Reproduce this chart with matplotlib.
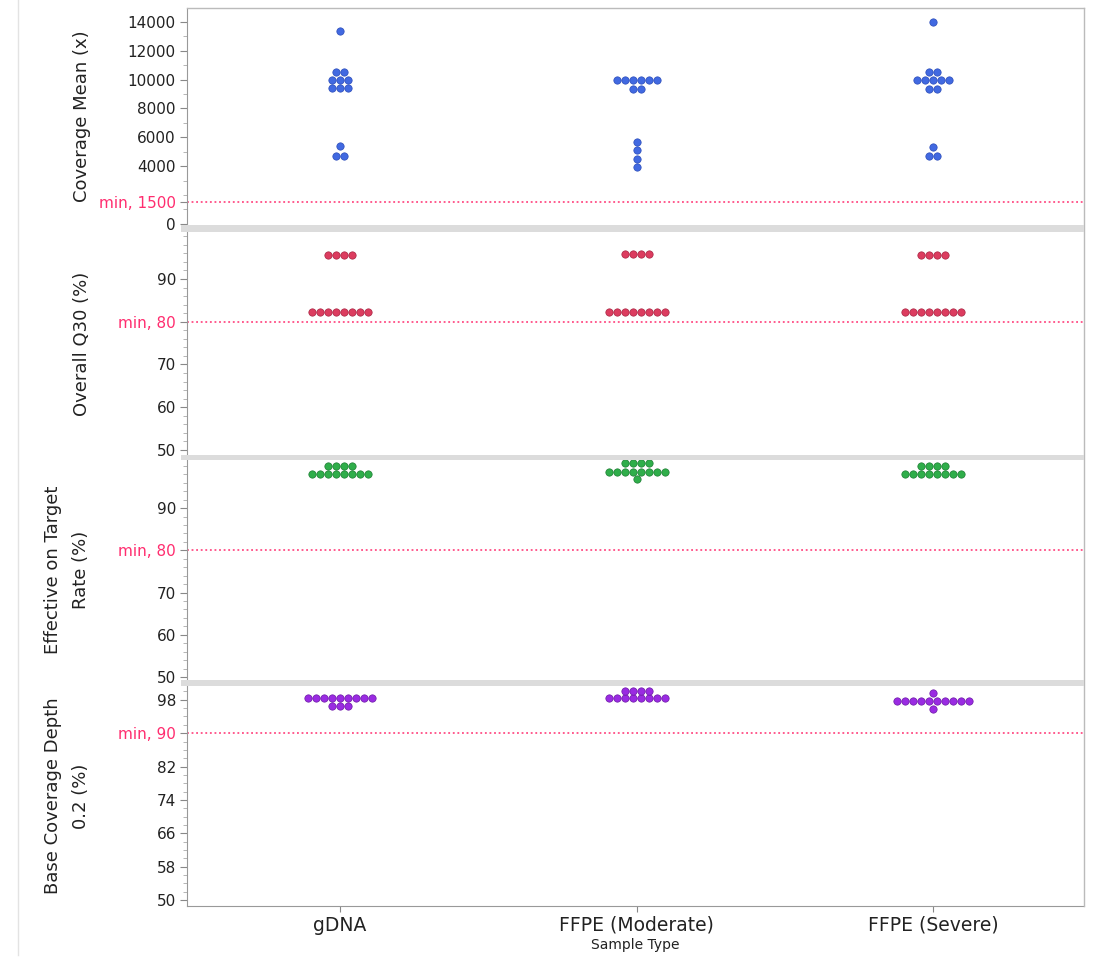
import numpy as np
import matplotlib.pyplot as plt
from matplotlib.patches import Rectangle
from matplotlib.ticker import MultipleLocator

categories = ['gDNA', 'FFPE (Moderate)', 'FFPE (Severe)']

# Coverage Mean (x)
cov_mean = [
    [13400, 10560, 10560, 9980, 9980, 9980, 9400, 9400, 9400, 5400, 4730, 4730],
    [9980, 9980, 9980, 9980, 9980, 9980, 9350, 9350, 5700, 5130, 4500, 3930],
    [14000, 10560, 10560, 9980, 9980, 9980, 9980, 9980, 9380, 9380, 5360, 4730, 4730],
]
# Overall Q30 (%)
q30 = [
    [95.6] * 4 + [82.3] * 8,
    [95.8] * 4 + [82.3] * 8,
    [95.6] * 4 + [82.3] * 8,
]
# Effective on Target Rate (%)
on_target = [
    [99.9] * 4 + [98.0] * 8,
    [100.6] * 4 + [98.5] * 8 + [96.8],
    [99.9] * 4 + [98.0] * 8,
]
# Base Coverage Depth 0.2 (%)
base_cov = [
    [98.4] * 9 + [96.4] * 3,
    [100.0] * 4 + [98.4] * 8,
    [99.6] + [97.8] * 10 + [95.8],
]

panels = [
    dict(data=cov_mean, label='Coverage Mean (x)', color='#4169e1', edge='#2b4bb8',
         ylim=(-80, 14970), ticks=[0, 4000, 6000, 8000, 10000, 12000, 14000],
         minor=1000, min_val=1500),
    dict(data=q30, label='Overall Q30 (%)', color='#dc3c5f', edge='#a82442',
         ylim=(48.8, 101.0), ticks=[50, 60, 70, 90], minor=2, min_val=80),
    dict(data=on_target, label='Effective on Target\nRate (%)', color='#2fae4a', edge='#1d7d33',
         ylim=(49.3, 101.4), ticks=[50, 60, 70, 90], minor=2, min_val=80),
    dict(data=base_cov, label='Base Coverage Depth\n0.2 (%)', color='#9a2be2', edge='#6c1aa6',
         ylim=(48.6, 101.3), ticks=[50, 58, 66, 74, 82, 98], minor=2, min_val=90),
]

W, H = 1104, 958
fig = plt.figure(figsize=(W / 100, H / 100), dpi=100)
plt.rcParams['font.family'] = ['DejaVu Sans']

left, right = 187, 1084
boxes = [(8, 225), (232, 455), (460, 680), (686, 906)]
spacing = 0.027
min_color = '#ff2d6f'

axes = []
for p, (top, bot) in zip(panels, boxes):
    ax = fig.add_axes([left / W, (H - bot) / H, (right - left) / W, (bot - top) / H])
    axes.append(ax)
    for ci, vals in enumerate(p['data']):
        vals = np.array(vals, dtype=float)
        for v in np.unique(vals):
            n = int(np.sum(vals == v))
            xs = ci + (np.arange(n) - (n - 1) / 2) * spacing
            ax.scatter(xs, [v] * n, s=28, color=p['color'], edgecolor=p['edge'],
                       linewidth=0.5, zorder=3)
    ax.axhline(p['min_val'], color=min_color, linestyle=(0, (1.2, 1.8)), linewidth=1.1, zorder=2)
    ax.set_xlim(-0.516, 2.509)
    ax.set_ylim(*p['ylim'])
    ticks = sorted(p['ticks'] + [p['min_val']])
    labels = [f'min, {t}' if t == p['min_val'] else str(t) for t in ticks]
    ax.set_yticks(ticks)
    ax.set_yticklabels(labels)
    ax.yaxis.set_minor_locator(MultipleLocator(p['minor']))
    ax.tick_params(axis='y', which='major', labelsize=11, length=5, color='#888888',
                   labelcolor='#222222', pad=3)
    for lab, t in zip(ax.get_yticklabels(), ticks):
        if t == p['min_val']:
            lab.set_color(min_color)
    ax.tick_params(axis='y', which='minor', length=3, color='#aaaaaa')
    for s in ['top', 'right', 'bottom']:
        ax.spines[s].set_visible(False)
    ax.spines['left'].set_color('#999999')
    ax.set_xticks([])
    ax.set_facecolor('none')
    yc = 1 - (top + bot) / 2 / H
    xl = 67 / W if '\n' in p['label'] else 82 / W
    fig.text(xl, yc, p['label'], rotation=90, ha='center', va='center',
             fontsize=13, color='#222222', linespacing=1.75)

ax = axes[-1]
ax.set_xticks(range(len(categories)))
ax.set_xticklabels(categories, fontsize=13.5, color='#222222')
ax.tick_params(axis='x', length=4, color='#888888', pad=3)
ax.spines['bottom'].set_visible(True)
ax.spines['bottom'].set_color('#999999')
fig.text((left + right) / 2 / W, 1 - 945 / H, 'Sample Type', ha='center', va='center',
         fontsize=10, color='#222222')

# outer frame (top and right) and panel separators
fig.add_artist(plt.Line2D([left / W, right / W], [1 - 8 / H, 1 - 8 / H],
                          color='#bbbbbb', linewidth=1, transform=fig.transFigure))
fig.add_artist(plt.Line2D([right / W, right / W], [1 - 906 / H, 1 - 8 / H],
                          color='#bbbbbb', linewidth=1, transform=fig.transFigure))
fig.add_artist(plt.Line2D([18 / W, 18 / W], [1 - 955 / H, 1.0],
                          color='#e3e3e3', linewidth=1, transform=fig.transFigure))
for y0, y1 in [(225, 232), (455, 460), (680, 686)]:
    fig.add_artist(Rectangle(((left - 6) / W, 1 - y1 / H), (right - left + 6) / W,
                             (y1 - y0) / H, transform=fig.transFigure,
                             facecolor='#dcdcdc', edgecolor='none', zorder=5))

fig.savefig('out.png', dpi=100)
